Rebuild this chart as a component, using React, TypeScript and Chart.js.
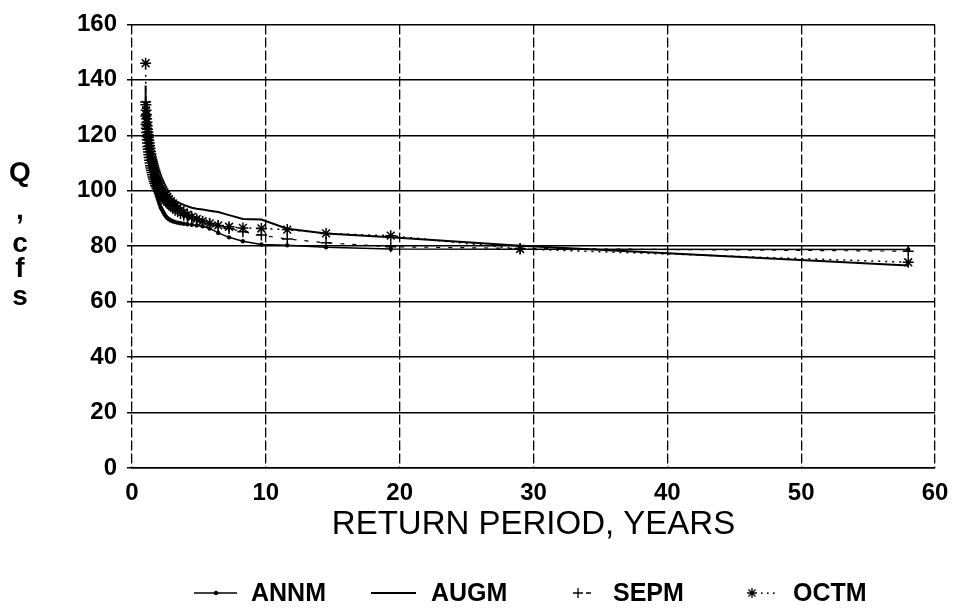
import React, { useEffect, useRef } from 'react';
import { Chart, registerables } from 'chart.js';

Chart.register(...registerables);

// Return period (years) for each ranked value, rank 1..57
const returnPeriod = [
  58, 29, 19.333, 14.5, 11.6, 9.667, 8.286, 7.25, 6.444, 5.8,
  5.273, 4.833, 4.462, 4.143, 3.867, 3.625, 3.412, 3.222, 3.053, 2.9,
  2.762, 2.636, 2.522, 2.417, 2.32, 2.231, 2.148, 2.071, 2.0, 1.933,
  1.871, 1.813, 1.758, 1.706, 1.657, 1.611, 1.568, 1.526, 1.487, 1.45,
  1.415, 1.381, 1.349, 1.318, 1.289, 1.261, 1.234, 1.208, 1.184, 1.16,
  1.137, 1.115, 1.094, 1.074, 1.055, 1.036, 1.018,
];

const annm = [
  78.8, 78.9, 79.0, 79.6, 80.3, 80.6, 81.8, 83.2, 84.8, 86.4,
  87.2, 87.5, 87.7, 87.9, 88.1, 88.3, 88.5, 88.7, 89.0, 89.3,
  89.7, 90.2, 90.8, 91.6, 92.4, 93.2, 94.0, 95.0, 96.0, 97.0,
  98.0, 99.0, 100.0, 101.0, 102.0, 103.0, 104.0, 105.0, 106.0, 107.0,
  108.0, 109.0, 110.0, 111.0, 112.0, 113.0, 114.0, 115.0, 116.0, 117.0,
  118.0, 119.0, 120.0, 121.0, 123.0, 126.0, 130.0,
];

const augm = [
  73.0, 80.2, 83.2, 84.6, 86.3, 89.6, 89.8, 91.2, 92.3, 92.8,
  93.2, 93.5, 93.9, 94.4, 94.9, 95.4, 95.9, 96.4, 96.9, 97.4,
  97.9, 98.4, 98.9, 99.4, 99.9, 100.4, 100.9, 101.4, 101.9, 102.4,
  102.9, 103.4, 104.0, 104.6, 105.2, 105.8, 106.5, 107.2, 108.0, 108.8,
  109.6, 110.5, 111.4, 112.4, 113.4, 114.4, 115.5, 117.0, 118.5, 120.0,
  122.0, 124.0, 126.0, 128.0, 129.5, 131.0, 138.0,
];

const sepm = [
  78.2, 79.2, 79.8, 81.2, 82.6, 84.0, 85.2, 86.4, 87.4, 88.2,
  88.8, 89.4, 90.0, 90.6, 91.2, 91.8, 92.4, 93.0, 93.6, 94.2,
  94.8, 95.4, 96.0, 96.6, 97.2, 97.8, 98.4, 99.0, 99.6, 100.2,
  100.8, 101.4, 102.0, 102.7, 103.4, 104.2, 105.0, 105.8, 106.6, 107.4,
  108.2, 109.0, 110.0, 111.0, 112.0, 113.0, 114.0, 115.0, 116.0, 117.2,
  118.4, 119.6, 121.0, 122.5, 124.0, 127.0, 132.0,
];

const octm = [
  74.2, 79.0, 83.8, 84.6, 86.0, 86.4, 86.6, 87.0, 87.5, 88.2,
  89.0, 89.8, 90.6, 91.4, 92.2, 93.0, 93.8, 94.6, 95.4, 96.2,
  97.0, 97.8, 98.6, 99.4, 100.2, 101.0, 101.8, 102.6, 103.4, 104.2,
  105.0, 105.8, 106.6, 107.4, 108.2, 109.0, 109.8, 110.6, 111.4, 112.2,
  113.2, 114.2, 115.2, 116.2, 117.2, 118.2, 119.2, 120.2, 121.2, 122.2,
  123.4, 124.7, 126.0, 127.5, 129.0, 131.0, 146.0,
];

const seriesNames = ['ANNM', 'AUGM', 'SEPM', 'OCTM'];
const xTitle = 'RETURN PERIOD, YEARS';
const yTitleLetters = ['Q', ',', 'c', 'f', 's'];
const xRange = [0, 60];
const yRange = [0, 160];
const xStep = 10;
const yStep = 20;

const FONT = "'Liberation Sans', Arial, Helvetica, sans-serif";

const toPoints = (vals: number[]) => vals.map((v, i) => ({ x: returnPeriod[i], y: v }));

const stackedYTitle = {
  id: 'stackedYTitle',
  afterDraw(chart: any) {
    const { ctx, chartArea } = chart;
    ctx.save();
    ctx.fillStyle = '#000';
    ctx.font = `bold 28px ${FONT}`;
    ctx.textAlign = 'center';
    ctx.textBaseline = 'middle';
    const offsets = [-73, -35, -2, 23, 51];
    const cy = (chartArea.top + chartArea.bottom) / 2;
    yTitleLetters.forEach((ch, i) => {
      ctx.fillText(ch, 20, cy + offsets[i]);
    });
    ctx.restore();
  },
};

const bottomLegend = {
  id: 'bottomLegend',
  afterDraw(chart: any) {
    const { ctx } = chart;
    const y = 593;
    const textX = [251, 431, 613, 793];
    ctx.save();
    ctx.strokeStyle = '#000';
    ctx.fillStyle = '#000';
    // ANNM: line with dot
    ctx.lineWidth = 1.5;
    ctx.beginPath(); ctx.moveTo(194, y); ctx.lineTo(237, y); ctx.stroke();
    ctx.beginPath(); ctx.arc(216, y, 2.2, 0, Math.PI * 2); ctx.fill();
    // AUGM: solid line
    ctx.lineWidth = 2;
    ctx.beginPath(); ctx.moveTo(371, y); ctx.lineTo(416, y); ctx.stroke();
    // SEPM: plus and short dash
    ctx.lineWidth = 1.3;
    ctx.beginPath();
    ctx.moveTo(578, y - 5); ctx.lineTo(578, y + 5);
    ctx.moveTo(573, y); ctx.lineTo(583, y);
    ctx.moveTo(586, y); ctx.lineTo(591, y);
    ctx.stroke();
    // OCTM: star and dots
    ctx.beginPath();
    const sx = 752;
    for (let k = 0; k < 4; k++) {
      const a = (k * Math.PI) / 4;
      ctx.moveTo(sx - 5 * Math.cos(a), y - 5 * Math.sin(a));
      ctx.lineTo(sx + 5 * Math.cos(a), y + 5 * Math.sin(a));
    }
    ctx.stroke();
    [761, 767, 773].forEach((dx) => ctx.fillRect(dx, y - 0.7, 1.6, 1.6));
    // Texts
    ctx.font = `bold 25px ${FONT}`;
    ctx.textAlign = 'left';
    ctx.textBaseline = 'middle';
    seriesNames.forEach((n, i) => ctx.fillText(n, textX[i], y + 1));
    ctx.restore();
  },
};

export default function App() {
  const canvasRef = useRef<HTMLCanvasElement | null>(null);

  useEffect(() => {
    document.body.style.margin = '0';
    document.body.style.overflow = 'hidden';
    const canvas = canvasRef.current;
    if (!canvas) return;

    const chart = new Chart(canvas, {
      type: 'line',
      data: {
        datasets: [
          {
            label: seriesNames[0],
            data: toPoints(annm),
            borderColor: '#000',
            backgroundColor: '#000',
            borderWidth: 1.5,
            pointStyle: 'circle',
            pointRadius: 2.2,
            pointBorderWidth: 0,
            tension: 0,
          },
          {
            label: seriesNames[1],
            data: toPoints(augm),
            borderColor: '#000',
            backgroundColor: '#000',
            borderWidth: 2,
            pointRadius: 0,
            tension: 0,
          },
          {
            label: seriesNames[2],
            data: toPoints(sepm),
            borderColor: '#000',
            backgroundColor: '#000',
            borderWidth: 1.2,
            borderDash: [4, 8],
            pointStyle: 'cross',
            pointRadius: 5.5,
            pointBorderWidth: 1.5,
            tension: 0,
          },
          {
            label: seriesNames[3],
            data: toPoints(octm),
            borderColor: '#000',
            backgroundColor: '#000',
            borderWidth: 1.5,
            borderDash: [2, 5],
            pointStyle: 'star',
            pointRadius: 5.5,
            pointBorderWidth: 1.5,
            tension: 0,
          },
        ],
      },
      options: {
        responsive: false,
        animation: false,
        devicePixelRatio: 1,
        layout: { padding: { top: 22, right: 34, left: 0, bottom: 0 } },
        plugins: {
          legend: { display: false },
          tooltip: { enabled: false },
        },
        scales: {
          x: {
            type: 'linear',
            min: xRange[0],
            max: xRange[1],
            ticks: {
              stepSize: xStep,
              color: '#000',
              font: { family: FONT, size: 24, weight: 'bold' },
              padding: 11,
            },
            grid: {
              color: '#000',
              lineWidth: 1.3,
              drawTicks: false,
            },
            border: { display: true, color: '#000', width: 1.5, dash: [10, 3] },
            title: {
              display: true,
              text: xTitle,
              color: '#000',
              font: { family: FONT, size: 33, weight: 'normal' },
              padding: { top: 0, bottom: 69 },
            },
            afterFit: (scale: any) => { scale.height = 146; },
          },
          y: {
            type: 'linear',
            min: yRange[0],
            max: yRange[1],
            ticks: {
              stepSize: yStep,
              color: '#000',
              font: { family: FONT, size: 24, weight: 'bold' },
              padding: 10,
            },
            grid: {
              color: '#000',
              lineWidth: 1.5,
              drawTicks: true,
              tickLength: 5,
            },
            border: { display: false },
            afterFit: (scale: any) => { scale.width = 132; },
          },
        },
      },
      plugins: [stackedYTitle, bottomLegend],
    } as any);

    return () => chart.destroy();
  }, []);

  return (
    <div style={{ width: 969, height: 614, background: '#fff' }}>
      <canvas ref={canvasRef} width={969} height={614} style={{ display: 'block' }} />
    </div>
  );
}
